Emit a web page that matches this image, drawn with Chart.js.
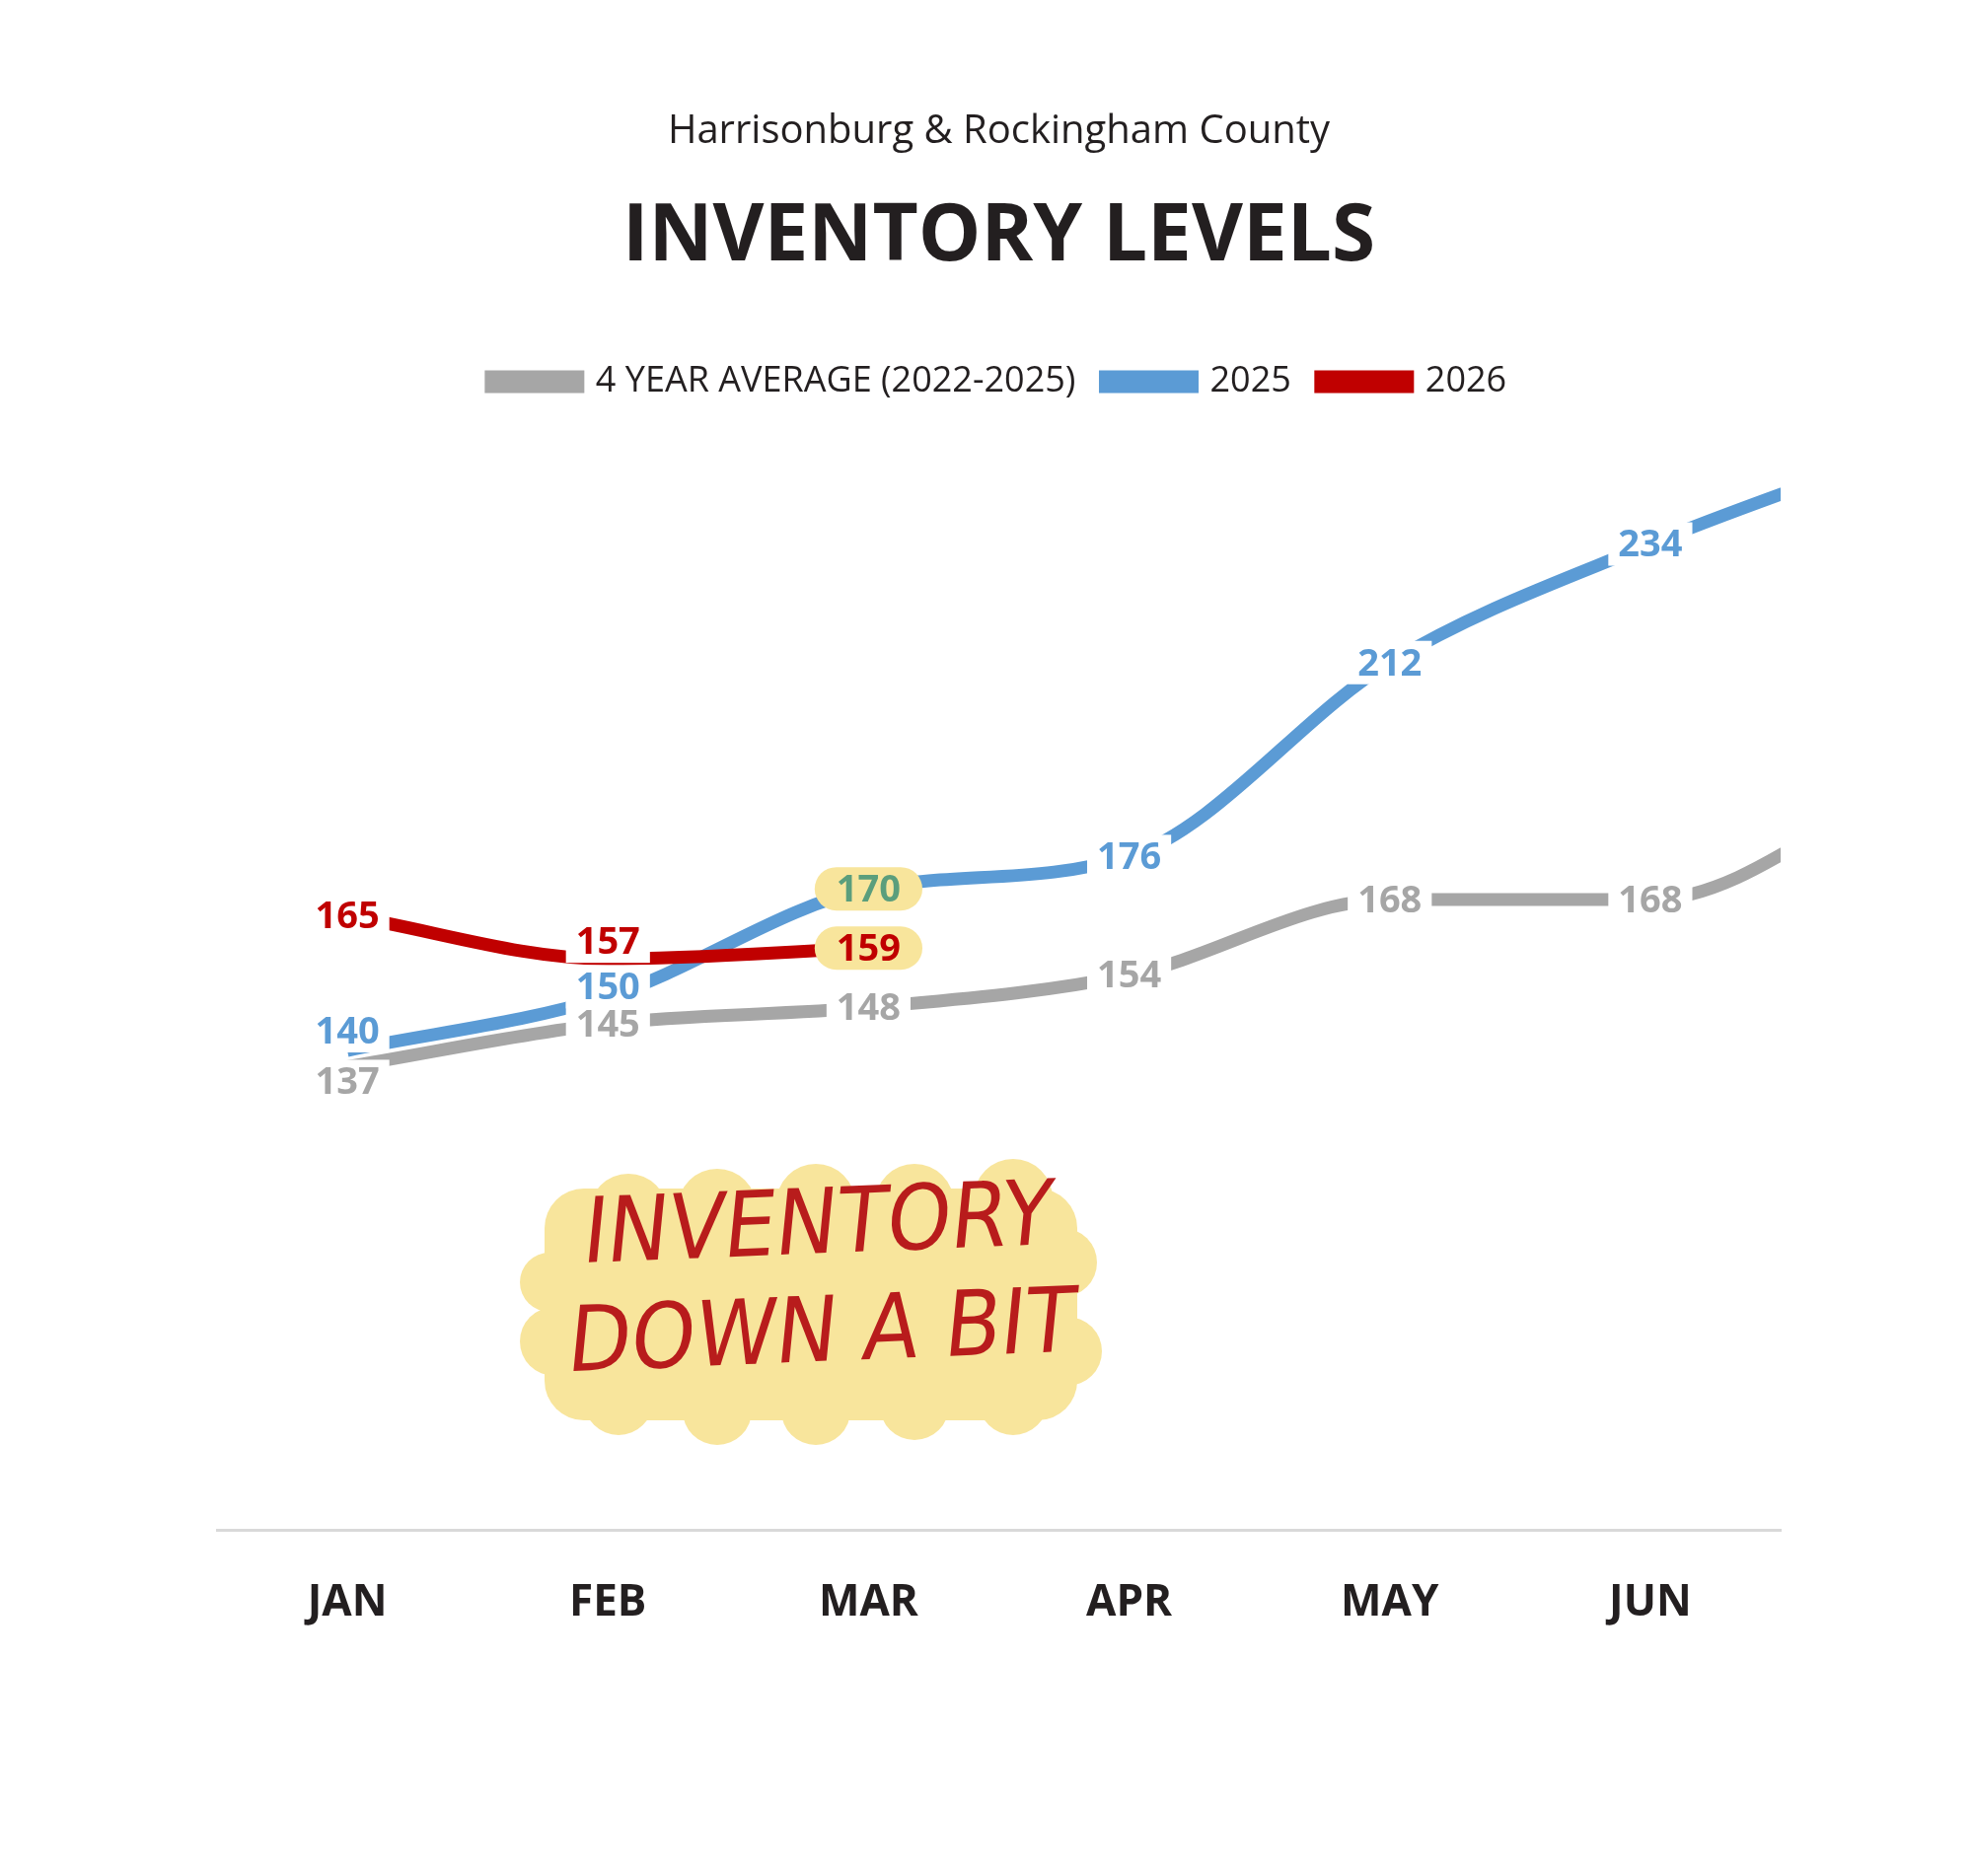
<!DOCTYPE html>
<html><head><meta charset="utf-8">
<script src="https://cdn.jsdelivr.net/npm/chart.js@4/dist/chart.umd.min.js"></script>
<style>html,body{margin:0;background:#fff}#w{width:2000px;height:1902px}</style>
</head><body><div id="w"><canvas id="c"></canvas></div>
<script>
const months = ["JAN","FEB","MAR","APR","MAY","JUN","JUL"];
const avg4 = [137,145,148,154,168,168,190];
const y2025 = [140,150,170,176,212,234,252];
const y2026 = [165,157,159];
const F = "'Open Sans', 'Noto Sans', sans-serif";

function pts(arr){return arr.map((v,i)=>({x:i,y:v}));}

const labelPlugin = {
  id:'lbls',
  afterDatasetsDraw(chart){
    const ctx = chart.ctx;
    ctx.save();
    ctx.font = "bold 38px "+F;
    ctx.textAlign='center'; ctx.textBaseline='middle';
    chart.data.datasets.forEach((ds,di)=>{
      const meta = chart.getDatasetMeta(di);
      meta.data.forEach((p,i)=>{
        if(i>5) return;
        const v = ds.data[i].y;
        let x=p.x, y=p.y;
        if(di===2 && i===1) y-=18;
        if(di===1 && i===1) y-=10;
        if(di===1 && i===0) y-=20;
        if(di===0 && i===0) y+=15;
        const t = String(v);
        const w = ctx.measureText(t).width;
        const hl = (i===2 && di>0);
        if(hl){
          ctx.fillStyle='#f8e59c';
          ctx.beginPath();
          ctx.roundRect(x-w/2-22,y-22,w+44,44,22);
          ctx.fill();
          ctx.fillStyle = di===1 ? '#5b9e7c' : '#c00000';
        } else {
          ctx.fillStyle='#fff';
          ctx.fillRect(x-w/2-10,y-22,w+20,44);
          ctx.fillStyle = ds.labelColor;
        }
        ctx.fillText(t,x,y+2);
      });
    });
    // annotation
    const cx=827, cy=1320;
    ctx.fillStyle='#f8e59c';
    const blobs=[[-240,-60,35],[-190,-90,40],[-100,-95,40],[0,-100,40],[100,-100,40],[200,-105,40],[250,-40,35],[255,50,35],[200,100,35],[100,105,35],[0,110,35],[-100,110,35],[-200,100,35],[-265,40,35],[-270,-20,30]];
    blobs.forEach(b=>{ctx.beginPath();ctx.arc(cx+b[0],cy+b[1],b[2],0,Math.PI*2);ctx.fill();});
    ctx.beginPath();ctx.roundRect(cx-275,cy-115,540,235,40);ctx.fill();
    ctx.fillStyle='#b81c1c';
    ctx.font="92px 'DejaVu Sans Condensed','DejaVu Sans',sans-serif";
    ctx.setTransform(1,-0.04,-0.1,1,0,0);
    ctx.fillText("INVENTORY",cx+130,cy-35);
    ctx.fillText("DOWN A BIT",cx+145,cy+75);
    ctx.restore();
  }
};

new Chart(document.getElementById('c'),{
  type:'line',
  data:{datasets:[
    {label:'4 YEAR AVERAGE (2022-2025)',data:pts(avg4),borderColor:'#a6a6a6',backgroundColor:'#a6a6a6',labelColor:'#a6a6a6',order:3},
    {label:'2025',data:pts(y2025),borderColor:'#5b9bd5',backgroundColor:'#5b9bd5',labelColor:'#5b9bd5',order:2},
    {label:'2026',data:pts(y2026),borderColor:'#c00000',backgroundColor:'#c00000',labelColor:'#c00000',order:1}
  ]},
  options:{
    responsive:true,maintainAspectRatio:false,animation:false,
    layout:{padding:{left:220,right:195,top:110,bottom:210}},
    elements:{line:{borderWidth:13,cubicInterpolationMode:'monotone',borderCapStyle:'butt'},point:{radius:0}},
    plugins:{
      title:{display:true,text:'Harrisonburg & Rockingham County',color:'#231f20',font:{family:F,size:40,weight:'normal'},padding:{top:0,bottom:35}},
      subtitle:{display:true,text:'INVENTORY LEVELS',color:'#231f20',font:{family:F,size:80,weight:'bold'},padding:{top:0,bottom:50}},
      legend:{labels:{color:'#231f20',font:{family:F,size:36},boxWidth:88,boxHeight:10,padding:30,sort:(a,b)=>a.datasetIndex-b.datasetIndex},
        },
      tooltip:{enabled:false}
    },
    scales:{
      x:{type:'linear',min:-0.5,max:5.5,grid:{display:false},border:{display:true,color:'#d9d9d9',width:3},
        afterBuildTicks:(s)=>{s.ticks=[0,1,2,3,4,5].map(v=>({value:v}));},
        ticks:{color:'#231f20',font:{family:F,size:44,weight:'bold'},padding:40,callback:v=>months[v]}},
      y:{display:false,min:51,max:259}
    }
  },
  plugins:[labelPlugin]
});
</script></body></html>
